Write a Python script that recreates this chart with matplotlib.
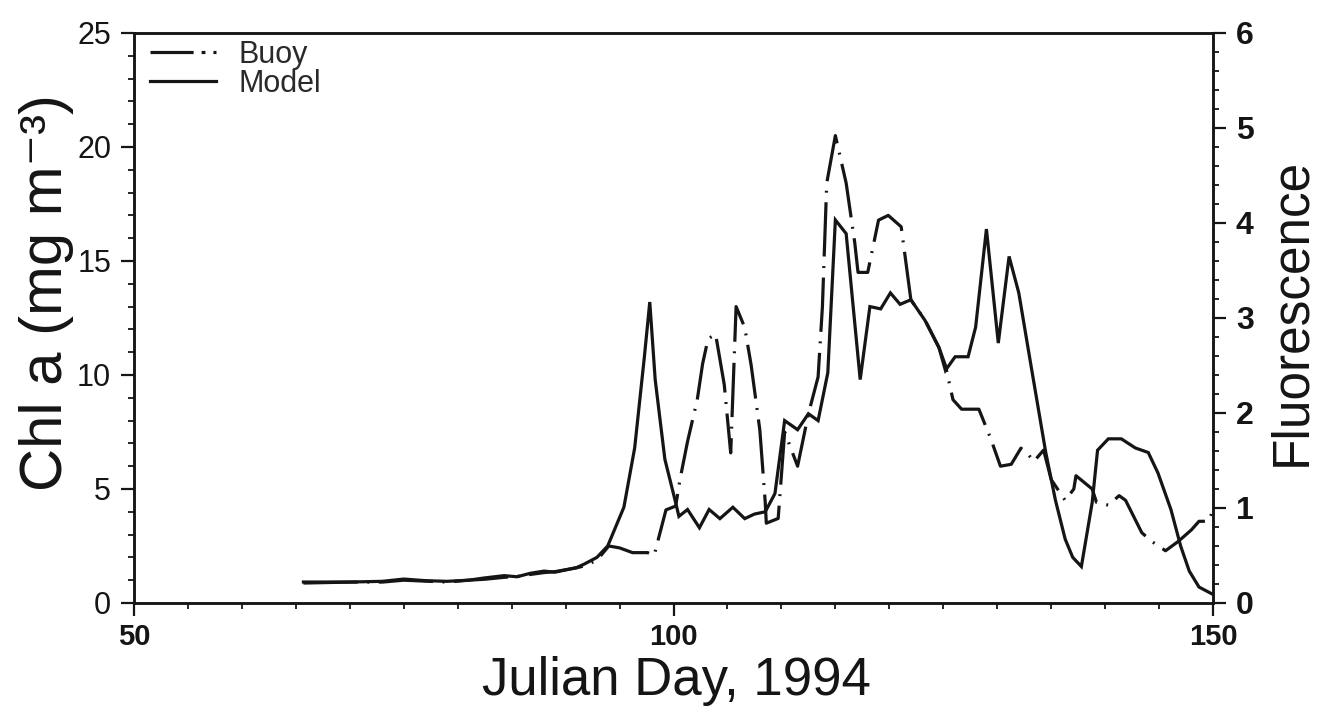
import matplotlib
matplotlib.use("Agg")
import matplotlib.pyplot as plt
from matplotlib.ticker import MultipleLocator
from matplotlib.lines import Line2D

plt.rcParams['font.family'] = ['Liberation Sans', 'DejaVu Sans']

# ---- data ----
model_day = [65.7, 70.0, 73.0, 75.0, 77.0, 79.0, 81.0, 82.5, 84.3, 85.5, 86.7, 88.0, 89.0, 90.0,
             91.0, 91.7, 92.9, 93.9, 95.4, 96.4, 97.3, 97.8, 98.3, 99.2, 100.2, 100.5, 101.3,
             102.4, 103.3, 104.3, 105.5, 106.6, 107.5, 108.5, 109.4, 110.3, 111.5, 112.5, 113.4,
             114.3, 115.0, 116.0, 117.3, 118.2, 119.2, 120.1, 121.0, 122.0, 123.3, 124.6, 125.2,
             126.1, 127.3, 128.0, 129.0, 130.1, 131.1, 132.0, 133.1, 134.5, 135.4, 136.3, 137.0,
             137.8, 138.8, 139.3, 140.3, 141.5, 142.8, 144.0, 144.9, 146.1, 147.0, 147.8, 148.7,
             149.9]
model_chl = [0.92, 0.92, 0.95, 1.05, 0.98, 0.95, 1.0, 1.1, 1.2, 1.15, 1.3, 1.4, 1.35, 1.45,
             1.55, 1.7, 2.0, 2.5, 4.2, 6.8, 10.8, 13.2, 9.8, 6.3, 4.4, 3.8, 4.1,
             3.3, 4.1, 3.7, 4.2, 3.7, 3.9, 4.0, 4.8, 8.0, 7.6, 8.3, 8.0,
             10.1, 16.8, 16.2, 9.8, 13.0, 12.9, 13.6, 13.1, 13.3, 12.4, 11.2, 10.2,
             10.8, 10.8, 12.1, 16.4, 11.4, 15.2, 13.6, 10.5, 6.6, 4.5, 2.8, 2.0,
             1.6, 4.4, 6.7, 7.2, 7.2, 6.8, 6.6, 5.7, 4.1, 2.5, 1.4, 0.7,
             0.4]

buoy_day = [65.7, 70.0, 73.0, 75.0, 77.0, 79.0, 81.0, 82.5, 84.3, 85.5, 86.7, 88.0, 89.0, 90.0,
            91.0, 91.7, 92.9, 94.0, 95.0, 96.2, 97.6, 98.2, 99.3, 100.2, 100.6, 101.3, 102.2,
            102.7, 103.2, 103.9, 104.7, 105.3, 105.8, 106.6, 107.2, 108.0, 108.5, 108.6, 109.7,
            110.3, 111.5, 112.5, 113.4, 113.8, 114.2, 115.0, 116.0, 116.8, 117.1, 118.0, 119.0,
            119.9, 121.1, 122.0, 123.3, 124.6, 125.2, 125.9, 126.7, 128.3, 129.4, 130.3, 131.3,
            132.2, 132.9, 133.4, 134.3, 135.0, 136.3, 137.1, 137.3, 138.8, 139.2, 140.3, 141.3,
            141.9, 143.4, 144.3, 145.6, 146.8, 148.0, 148.7, 149.6, 150.0]
buoy_fluor = [0.21, 0.22, 0.22, 0.24, 0.23, 0.22, 0.24, 0.25, 0.27, 0.28, 0.30, 0.32, 0.33, 0.35,
              0.37, 0.39, 0.45, 0.60, 0.58, 0.53, 0.53, 0.50, 0.98, 1.02, 1.30, 1.70, 2.14,
              2.52, 2.78, 2.83, 2.30, 1.58, 3.12, 2.90, 2.50, 1.82, 1.06, 0.84, 0.89,
              1.80, 1.44, 1.99, 2.38, 3.12, 4.42, 4.92, 4.42, 3.79, 3.48, 3.48, 4.03,
              4.08, 3.96, 3.19, 2.98, 2.69, 2.50, 2.14, 2.04, 2.04, 1.73, 1.44, 1.46,
              1.63, 1.56, 1.49, 1.61, 1.30, 1.08, 1.20, 1.34, 1.20, 1.06, 1.03, 1.13,
              1.08, 0.74, 0.65, 0.55, 0.65, 0.77, 0.86, 0.86, 0.98]

x_major = [50, 100, 150]
left_ticks = [0, 5, 10, 15, 20, 25]
right_ticks = [0, 1, 2, 3, 4, 5, 6]

# ---- figure ----
fig = plt.figure(figsize=(13.27, 7.17), dpi=100)
ax = fig.add_axes([0.1010, 0.159, 0.8131, 0.795])
ax2 = ax.twinx()

ink = '#151515'
lw = 2.3
buoy_dashes = (17, 3, 0.6, 3)
model_line, = ax.plot(model_day, model_chl, color=ink, lw=lw, solid_joinstyle='miter',
                      label='Model')
buoy_line, = ax2.plot(buoy_day, buoy_fluor, color=ink, lw=lw, dashes=buoy_dashes,
                      dash_capstyle='butt', label='Buoy')

ax.set_xlim(50, 150)
ax.set_ylim(0, 25)
ax2.set_ylim(0, 6)

ax.set_xticks(x_major)
ax.xaxis.set_minor_locator(MultipleLocator(5))
ax.set_yticks(left_ticks)
ax.yaxis.set_minor_locator(MultipleLocator(1))
ax2.set_yticks(right_ticks)
ax2.yaxis.set_minor_locator(MultipleLocator(0.2))

for a in (ax, ax2):
    for s in a.spines.values():
        s.set_linewidth(1.8)
        s.set_color(ink)

ax.tick_params(axis='both', which='major', direction='out', length=9.5, width=1.6,
               labelsize=22, colors=ink, pad=7)
ax.tick_params(axis='both', which='minor', direction='out', length=4.5, width=1.3, colors=ink)
ax.tick_params(axis='x', which='major', labelsize=21, pad=5)
ax2.tick_params(axis='y', which='major', direction='out', length=9.5, width=1.6,
                labelsize=23, colors=ink, pad=7)
ax2.tick_params(axis='y', which='minor', direction='out', length=4.5, width=1.3, colors=ink)
for lab in ax2.get_yticklabels():
    lab.set_fontweight('bold')
for lab in ax.get_xticklabels():
    lab.set_fontweight('bold')

ax.set_xlabel('Julian Day, 1994', fontsize=38, color=ink)
ax.xaxis.set_label_coords(0.503, -0.093)
ax.set_ylabel('Chl a (mg m\u207b\u00b3)', fontsize=43, color=ink)
ax.yaxis.set_label_coords(-0.056, 0.545)
ax2.set_ylabel('Fluorescence', fontsize=37, color=ink)
ax2.yaxis.set_label_coords(1.05, 0.51)

handles = [Line2D([], [], color=ink, lw=lw, dashes=(13.5, 2.5, 1.2, 2.5)),
           Line2D([], [], color=ink, lw=lw)]
leg = ax.legend(handles, ['Buoy', 'Model'], loc='upper left', bbox_to_anchor=(-0.005, 1.025),
                frameon=False, fontsize=22, handlelength=2.15, handletextpad=0.75,
                labelspacing=-0.05, borderaxespad=0.3)
for t in leg.get_texts():
    t.set_color('#2a2a2a')

fig.savefig('out.png', dpi=100, facecolor='white')
